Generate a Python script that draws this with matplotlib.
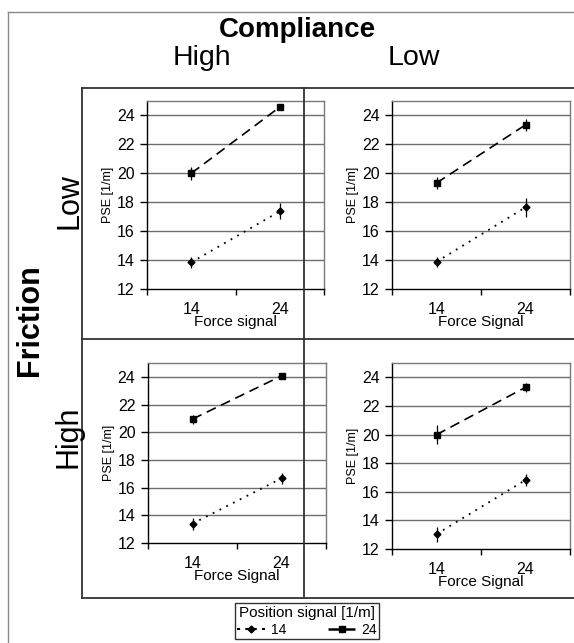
import numpy as np
import matplotlib
matplotlib.use("Agg")
import matplotlib.pyplot as plt
from matplotlib.lines import Line2D

plt.rcParams['font.family'] = ['Liberation Sans', 'DejaVu Sans']

# data: PSE [1/m] per panel, x = force signal (14, 24)
force_labels = ["14", "24"]
xlabels = ["Force signal", "Force Signal", "Force Signal", "Force Signal"]

# panels: top-left, top-right, bottom-left, bottom-right
pos14_mean = [[13.84, 17.37], [13.88, 17.65], [13.40, 16.67], [13.04, 16.82]]
pos14_err = [[0.38, 0.56], [0.35, 0.67], [0.43, 0.40], [0.52, 0.40]]
pos24_mean = [[20.00, 24.58], [19.33, 23.35], [20.95, 24.07], [19.99, 23.30]]
pos24_err = [[0.43, 0.18], [0.43, 0.43], [0.32, 0.20], [0.66, 0.30]]

W, H = 574, 643
fig = plt.figure(figsize=(W / 100, H / 100), dpi=100)

def fx(px):
    return px / W

def fy(py):
    return 1 - py / H

# axes boxes in pixels (left, top, right, bottom)
boxes = [(147, 101, 324, 289), (392, 101, 570, 289),
         (148, 363, 326, 543), (392, 363, 570, 549)]

x_cat = np.array([0.5, 1.5])
for i, (l, t, r, b) in enumerate(boxes):
    ax = fig.add_axes([fx(l), fy(b), (r - l) / W, (b - t) / H])
    for yv in range(14, 25, 2):
        ax.axhline(yv, color='#6e6e6e', lw=1.0, zorder=1)
    ax.errorbar(x_cat, pos14_mean[i], yerr=pos14_err[i], color='black',
                ls=(0, (1, 3.2)), lw=1.3, marker='D', ms=3.5, elinewidth=0.9,
                capsize=0, zorder=3)
    ax.errorbar(x_cat, pos24_mean[i], yerr=pos24_err[i], color='black',
                ls=(0, (6, 3.5)), lw=1.2, marker='s', ms=4.5, elinewidth=0.9,
                capsize=0, zorder=3)
    ax.set_xlim(0, 2)
    ax.set_ylim(12, 25)
    ax.set_yticks(range(12, 25, 2))
    ax.tick_params(axis='y', direction='out', length=5, width=1, labelsize=11.5, pad=4)
    ax.set_xticks([0, 1, 2])
    ax.set_xticklabels([])
    ax.set_xticks(x_cat, minor=True)
    ax.set_xticklabels(force_labels, minor=True, fontsize=11.5)
    ax.tick_params(axis='x', which='major', direction='out', length=4, width=1)
    ax.tick_params(axis='x', which='minor', length=0, pad=9)
    ax.set_xlabel(xlabels[i], fontsize=11, labelpad=-1)
    ax.set_ylabel("PSE [1/m]", fontsize=9, labelpad=2)
    for s in ['top', 'right']:
        ax.spines[s].set_color('#7a7a7a')
        ax.spines[s].set_linewidth(1.0)
    for s in ['left', 'bottom']:
        ax.spines[s].set_color('black')
        ax.spines[s].set_linewidth(1.0)

# outer frame and panel grid
def fline(x0, y0, x1, y1, color, lw):
    fig.add_artist(Line2D([fx(x0), fx(x1)], [fy(y0), fy(y1)],
                          color=color, lw=lw, transform=fig.transFigure))

fline(8, 12, 580, 12, '#8a8a8a', 1.0)
fline(8, 12, 8, 650, '#8a8a8a', 1.0)
fline(82, 88, 580, 88, '#333333', 1.3)
fline(82, 88, 82, 598, '#333333', 1.3)
fline(82, 598, 580, 598, '#333333', 1.3)
fline(304, 88, 304, 598, '#333333', 1.3)
fline(82, 339, 580, 339, '#333333', 1.3)

# headers
fig.text(fx(297), fy(30), "Compliance", fontsize=20, fontweight='bold',
         ha='center', va='center')
fig.text(fx(202), fy(58), "High", fontsize=20.5, ha='center', va='center')
fig.text(fx(414), fy(58), "Low", fontsize=20.5, ha='center', va='center')
fig.text(fx(30), fy(320), "Friction", fontsize=22, fontweight='bold',
         rotation=90, ha='center', va='center')
fig.text(fx(69), fy(201), "Low", fontsize=22, rotation=90, ha='center', va='center')
fig.text(fx(69), fy(437), "High", fontsize=22, rotation=90, ha='center', va='center')

# legend
h14 = Line2D([], [], color='black', ls=(0, (1.5, 2.5)), lw=1.5, marker='D', ms=3.5)
h24 = Line2D([], [], color='black', ls=(0, (5, 2)), lw=1.8, marker='s', ms=4.5)
leg = fig.legend([h14, h24], ["14", "24"], ncol=2, loc='upper center',
                 bbox_to_anchor=(fx(307), fy(603)), title="Position signal [1/m]",
                 title_fontsize=11, fontsize=10, frameon=True, fancybox=False,
                 edgecolor='black', handlelength=2.0, handletextpad=0.4,
                 columnspacing=3.0, borderpad=0.2, labelspacing=0.2, borderaxespad=0)
leg.get_frame().set_linewidth(1.0)

fig.savefig("out.png", dpi=100)
